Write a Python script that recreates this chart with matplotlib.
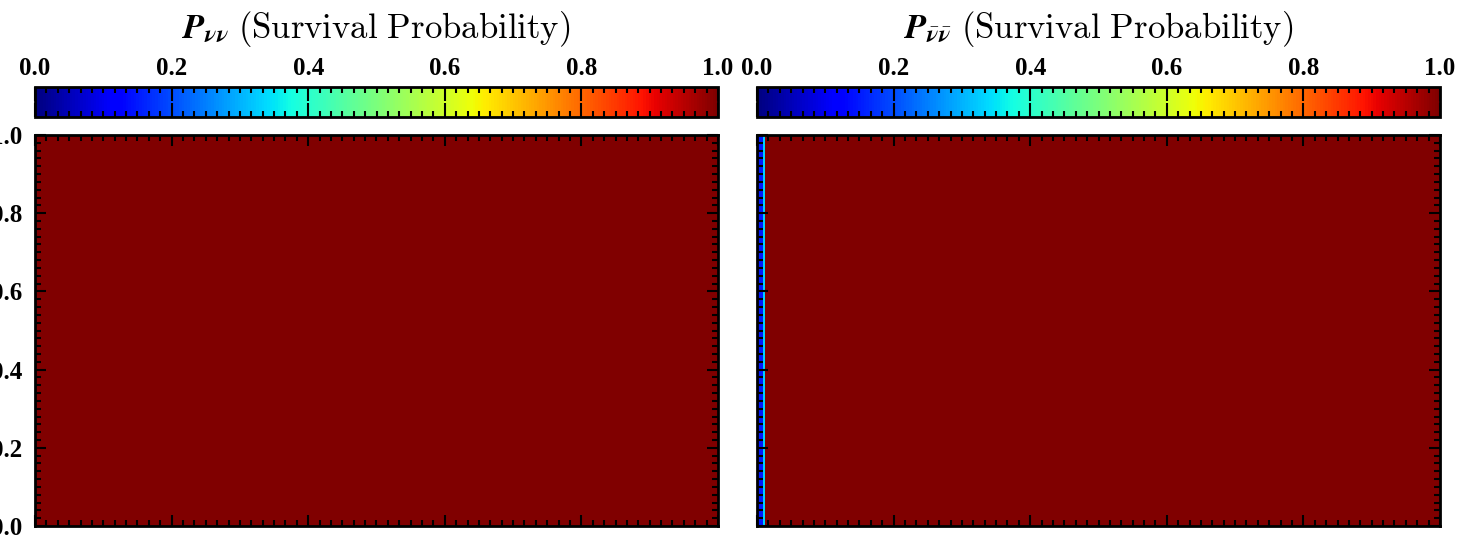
import numpy as np
import matplotlib
matplotlib.use("Agg")
import matplotlib.pyplot as plt
from matplotlib.font_manager import FontProperties
from matplotlib.ticker import MultipleLocator, AutoMinorLocator, FormatStrFormatter

plt.rcParams['mathtext.fontset'] = 'cm'

# ---- data ----
cbar_ticks = [0.0, 0.2, 0.4, 0.6, 0.8, 1.0]
y_ticks = [0.0, 0.2, 0.4, 0.6, 0.8, 1.0]

# neutrino survival probability: uniform 1.0 everywhere
nu_x_edges = [0.0, 1.0]
nu_y_edges = [0.0, 1.0]
nu_values = [[1.0]]

# antineutrino survival probability: thin low strip near x = 0
anu_x_edges = [0.0, 0.009, 0.0115, 1.0]
anu_y_edges = [0.0, 1.0]
anu_values = [[0.15, 0.33, 1.0]]

title_syms = [r"$\mathbfit{P}_{\mathbfit{\nu}\mathbfit{\nu}}$",
              r"$\mathbfit{P}_{\bar{\mathbfit{\nu}}\bar{\mathbfit{\nu}}}$"]
title_text = r"$\mathrm{(Survival\ Probability)}$"

W, H = 1468, 547
fig = plt.figure(figsize=(W / 100, H / 100), dpi=100)

tick_font = dict(family='Liberation Serif', weight='bold', size=18)

panels = [(35, nu_x_edges, nu_y_edges, nu_values, True),
          (757, anu_x_edges, anu_y_edges, anu_values, False)]

title_pairs = []
for i, (x0px, xe, ye, vals, ylab) in enumerate(panels):
    wpx = 683
    ax = fig.add_axes([x0px / W, 1 - 526 / H, wpx / W, 391 / H])
    cax = fig.add_axes([x0px / W, 1 - 117 / H, wpx / W, 30 / H])
    mesh = ax.pcolormesh(np.array(xe), np.array(ye), np.array(vals),
                         cmap='jet', vmin=0, vmax=1, shading='flat')
    ax.set_xlim(0, 1)
    ax.set_ylim(0, 1)
    ax.set_yticks(y_ticks)
    ax.xaxis.set_major_locator(MultipleLocator(0.2))
    ax.xaxis.set_minor_locator(AutoMinorLocator(12))
    ax.yaxis.set_minor_locator(AutoMinorLocator(10))
    ax.yaxis.set_major_formatter(FormatStrFormatter('%.1f'))
    ax.tick_params(which='both', direction='in', top=True, right=True,
                   color='black', width=1.5)
    ax.tick_params(which='major', length=8)
    ax.tick_params(which='minor', length=4)
    ax.tick_params(axis='x', labelbottom=False)
    ax.tick_params(axis='y', labelleft=ylab, pad=9)
    for lbl in ax.get_yticklabels():
        lbl.set_fontproperties(FontProperties(**tick_font))
    for sp in ax.spines.values():
        sp.set_linewidth(2)

    cb = fig.colorbar(mesh, cax=cax, orientation='horizontal', ticks=cbar_ticks)
    cb.outline.set_linewidth(2)
    cax.xaxis.set_ticks_position('both')
    cax.xaxis.set_label_position('top')
    cax.xaxis.set_major_formatter(FormatStrFormatter('%.1f'))
    cax.xaxis.set_minor_locator(AutoMinorLocator(12))
    cax.tick_params(which='both', direction='in', labeltop=True, labelbottom=False,
                    color='black', width=1.5, pad=5)
    cax.tick_params(which='major', length=10)
    cax.tick_params(which='minor', length=4)
    for lbl in cax.get_xticklabels():
        lbl.set_fontproperties(FontProperties(**tick_font))

    ybase = 1 - 38 / H
    t1 = fig.text(0, ybase, title_syms[i], ha='left', va='baseline',
                  fontsize=25, math_fontfamily='stix')
    t2 = fig.text(0, ybase, title_text, ha='left', va='baseline',
                  fontsize=25, math_fontfamily='cm')
    title_pairs.append((x0px + wpx / 2, t1, t2))

fig.canvas.draw()
r = fig.canvas.get_renderer()
for cx, t1, t2 in title_pairs:
    w1 = t1.get_window_extent(r).width
    w2 = t2.get_window_extent(r).width
    gap = 9
    start = cx - (w1 + gap + w2) / 2
    t1.set_x(start / W)
    t2.set_x((start + w1 + gap) / W)

fig.savefig('out.png', dpi=100)
